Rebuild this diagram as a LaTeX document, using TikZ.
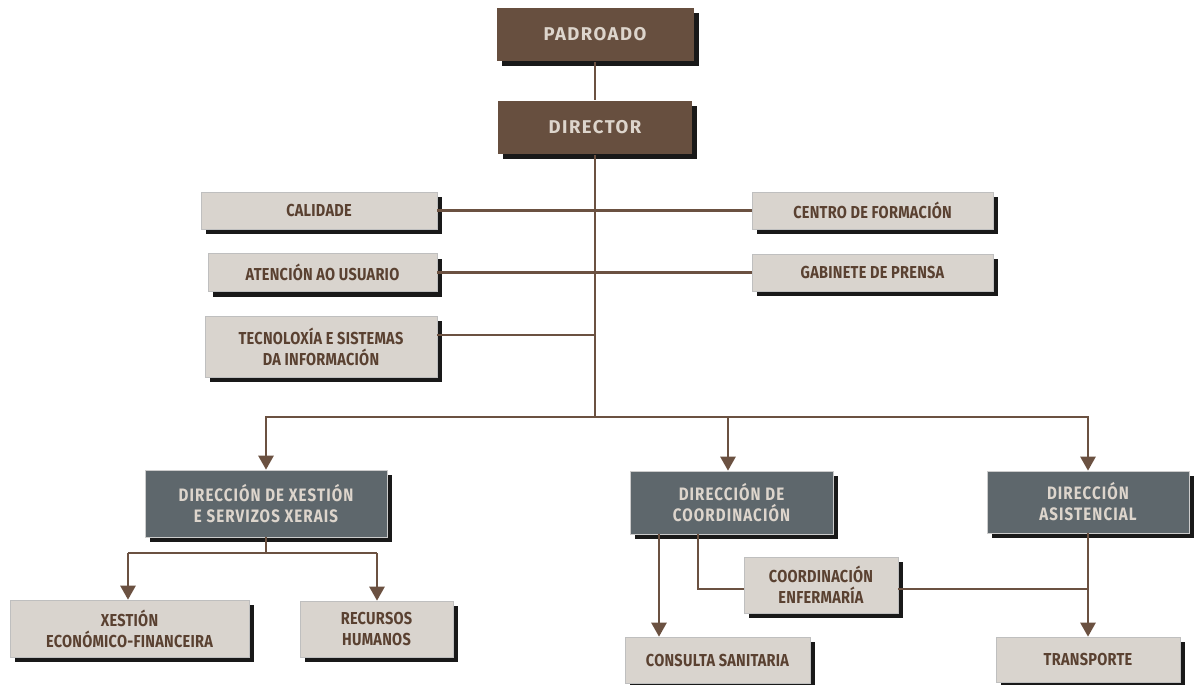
\documentclass[tikz,border=0pt]{standalone}
\usepackage{fontspec}
\setmainfont{Fira Sans}[FakeStretch=0.84,LetterSpace=1.5]
\newfontfamily\widefont{Fira Sans}[LetterSpace=8]
\newfontfamily\deptfont{Fira Sans}[FakeStretch=0.84,LetterSpace=6]
\usepackage{tikz}
\usetikzlibrary{arrows.meta,shadows}
\tikzset{>={Triangle[width=15pt,length=14pt]}}
\definecolor{bark}{HTML}{674F3F}
\definecolor{wire}{HTML}{6B5141}
\definecolor{sand}{HTML}{D9D4CE}
\definecolor{slate}{HTML}{5E676C}
\definecolor{cream}{HTML}{DDD5CC}
\definecolor{ink}{HTML}{5A4131}
\begin{document}
\begin{tikzpicture}[x=1pt, y=-1pt, line width=2.5pt, draw=wire,
  box/.style = {rectangle, inner sep=0pt, align=center, font=\fontsize{17.3}{21}\selectfont\bfseries,
    drop shadow={shadow xshift=5pt, shadow yshift=-5pt, fill=black!90, opacity=1}},
  head/.style = {box, fill=bark, text=cream, font=\widefont\fontsize{18.5}{21}\selectfont\bfseries},
  unit/.style = {box, fill=sand, text=ink, draw=black!25, line width=0.6pt},
  dept/.style = {box, fill=slate, text=cream, draw=black!20, line width=0.6pt,
    font=\deptfont\fontsize{18}{21}\selectfont\bfseries}]
\useasboundingbox (0,0) rectangle (1199,685);
\node[head, minimum width=197pt, minimum height=53pt] (padroado) at (595,34.5) {PADROADO};
\node[head, minimum width=194pt, minimum height=53pt] (director) at (595,127.5) {DIRECTOR};
\node[unit, minimum width=236pt, minimum height=37pt] (calidade) at (319,210.5) {CALIDADE};
\node[unit, minimum width=241pt, minimum height=37pt] (centro) at (872.5,210.5) {CENTRO DE FORMACIÓN};
\node[unit, minimum width=229pt, minimum height=38pt] (atencion) at (322.5,272.5) {ATENCIÓN AO USUARIO};
\node[unit, minimum width=241pt, minimum height=37pt] (gabinete) at (872.5,272.5) {GABINETE DE PRENSA};
\node[unit, minimum width=232pt, minimum height=61pt] (tecno) at (321,346.5) {TECNOLOXÍA E SISTEMAS\\DA INFORMACIÓN};
\node[dept, minimum width=242pt, minimum height=67pt] (xestion) at (266,503.5) {DIRECCIÓN DE XESTIÓN\\E SERVIZOS XERAIS};
\node[dept, minimum width=203pt, minimum height=63pt] (coord) at (731.5,502.5) {DIRECCIÓN DE\\COORDINACIÓN};
\node[dept, minimum width=202pt, minimum height=62pt] (asist) at (1088,502) {DIRECCIÓN\\ASISTENCIAL};
\node[unit, minimum width=239pt, minimum height=57pt] (economico) at (129.5,628.5) {XESTIÓN\\ECONÓMICO-FINANCEIRA};
\node[unit, minimum width=153pt, minimum height=56pt] (recursos) at (376.5,629) {RECURSOS\\HUMANOS};
\node[unit, minimum width=154pt, minimum height=56pt] (enfermaria) at (821,585) {COORDINACIÓN\\ENFERMARÍA};
\node[unit, minimum width=185pt, minimum height=46pt] (consulta) at (717.5,660) {CONSULTA SANITARIA};
\node[unit, minimum width=184pt, minimum height=45pt] (transporte) at (1088,659.5) {TRANSPORTE};
\coordinate (hub) at (595,417);
\coordinate (tecjoin) at (595,335);
\coordinate (xjoin) at (266,553);
\coordinate (xleft) at (128,553);
\coordinate (xright) at (377,553);
\coordinate (coordleft) at (659,534);
\coordinate (coordmid) at (698,534);
\coordinate (coorddown) at (728,417);
\coordinate (enfjoin) at (698,589);
\coordinate (asjoin) at (1088,589);
% upper part
\draw (padroado) -- (director);
\draw (director) -- (hub);
\draw (calidade) -- (centro);
\draw (atencion) -- (gabinete);
\draw (tecno.east |- tecjoin) -- (tecjoin);
% directions
\draw[->] (hub) -| (xestion.north);
\draw[->] (hub) -| (asist.north);
\draw[->] (coorddown) -- (coorddown |- coord.north);
% lower part
\draw (xestion) -- (xjoin);
\draw (xleft) -- (xright);
\draw[->] (xleft) -- (xleft |- economico.north);
\draw[->] (xright) -- (xright |- recursos.north);
\draw[->] (coordleft) -- (coordleft |- consulta.north);
\draw (coordmid) -- (enfjoin) -- (enfjoin -| enfermaria.west);
\draw (enfjoin -| enfermaria.east) -- (asjoin);
\draw[->] (asist) -- (transporte);
\end{tikzpicture}
\end{document}
